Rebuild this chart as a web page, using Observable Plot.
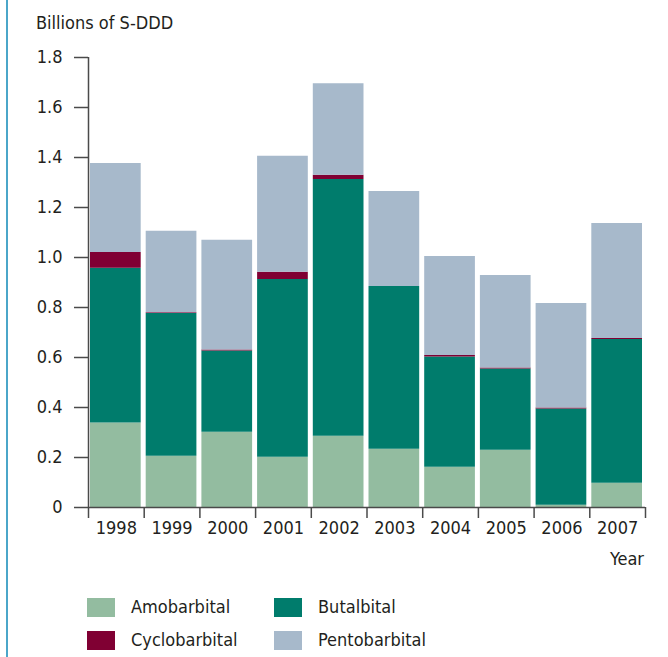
<!DOCTYPE html>
<html>
<head>
<meta charset="utf-8">
<script src="https://cdn.jsdelivr.net/npm/d3@7"></script>
<script src="https://cdn.jsdelivr.net/npm/@observablehq/plot@0.6"></script>
<style>
  html, body { margin: 0; padding: 0; background: #fff; }
  body { width: 668px; height: 657px; position: relative; overflow: hidden;
         font-family: "DejaVu Sans Condensed", "Liberation Sans Narrow", sans-serif; color: #231f20; }
  #border { position: absolute; left: 6px; top: 0; width: 2px; height: 657px; background: #4ba6c9; }
  #title { position: absolute; left: 36px; top: 12px; font-size: 18px; line-height: 22px; }
  #chart { position: absolute; left: 0; top: 0; }
  #year { position: absolute; right: 24px; top: 548px; font-size: 18px; line-height: 22px; }
  .lg { position: absolute; font-size: 18px; line-height: 20px; display: flex; align-items: center; }
  .sw { width: 28px; height: 19px; margin-right: 16px; }
</style>
</head>
<body>
<div id="border"></div>
<div id="chart"></div>
<div id="title">Billions of S-DDD</div>
<div id="year">Year</div>
<div id="legend"></div>
<script>
const years = ["1998", "1999", "2000", "2001", "2002", "2003", "2004", "2005", "2006", "2007"];
const drugs = ["Amobarbital", "Butalbital", "Cyclobarbital", "Pentobarbital"];
const amobarbital   = [0.338, 0.205, 0.301, 0.201, 0.285, 0.233, 0.161, 0.229, 0.009, 0.097];
const butalbital    = [0.619, 0.571, 0.325, 0.711, 1.027, 0.651, 0.441, 0.325, 0.385, 0.575];
const cyclobarbital = [0.063, 0.003, 0.004, 0.029, 0.017, 0.000, 0.006, 0.004, 0.004, 0.004];
const pentobarbital = [0.356, 0.326, 0.439, 0.464, 0.366, 0.380, 0.396, 0.370, 0.418, 0.460];
const yTicks = [0, 0.2, 0.4, 0.6, 0.8, 1.0, 1.2, 1.4, 1.6, 1.8];
const colors = ["#93bca0", "#007c6c", "#800033", "#a7b9cb"];

const series = [amobarbital, butalbital, cyclobarbital, pentobarbital];
const rows = [];
years.forEach((year, i) => {
  let acc = 0;
  drugs.forEach((drug, k) => {
    const v = series[k][i];
    rows.push({i, year, drug, y1: acc, y2: acc + v});
    acc += v;
  });
});

const axisColor = "#4a4a4a";
const chart = Plot.plot({
  width: 668,
  height: 580,
  marginLeft: 88,
  marginRight: 23,
  marginTop: 57,
  marginBottom: 73,
  style: {fontFamily: '"DejaVu Sans Condensed", sans-serif', fontSize: "18px", color: "#231f20", background: "transparent"},
  x: {domain: [0, years.length]},
  y: {domain: [0, 1.8]},
  color: {domain: drugs, range: colors},
  marks: [
    Plot.rect(rows, {x1: "i", x2: d => d.i + 1, y1: "y1", y2: "y2", fill: "drug", insetLeft: 2, insetRight: 3}),
    Plot.axisY({ticks: yTicks, tickSize: 14, tickPadding: 12, tickFormat: d => d === 0 ? "0" : d.toFixed(1), label: null, stroke: axisColor, strokeWidth: 1.5}),
    Plot.axisX({ticks: d3.range(0, years.length + 1), tickSize: 11, tickFormat: () => "", label: null, stroke: axisColor, strokeWidth: 1.5}),
    Plot.axisX({ticks: years.map((_, i) => i + 0.5), tickSize: 0, tickPadding: 14, tickFormat: v => years[Math.floor(v)], label: null}),
    Plot.ruleX([0], {y1: 0, y2: 1.8, stroke: axisColor, strokeWidth: 1.5}),
    Plot.ruleY([0], {x1: 0, x2: years.length, stroke: axisColor, strokeWidth: 1.5})
  ]
});
document.getElementById("chart").appendChild(chart);

const legendPos = [[87, 597], [274, 597], [87, 630], [274, 630]];
const legend = document.getElementById("legend");
drugs.forEach((d, k) => {
  const el = document.createElement("div");
  el.className = "lg";
  el.style.left = legendPos[k][0] + "px";
  el.style.top = legendPos[k][1] + "px";
  el.innerHTML = `<span class="sw" style="background:${colors[k]}"></span><span>${d}</span>`;
  legend.appendChild(el);
});
</script>
</body>
</html>
